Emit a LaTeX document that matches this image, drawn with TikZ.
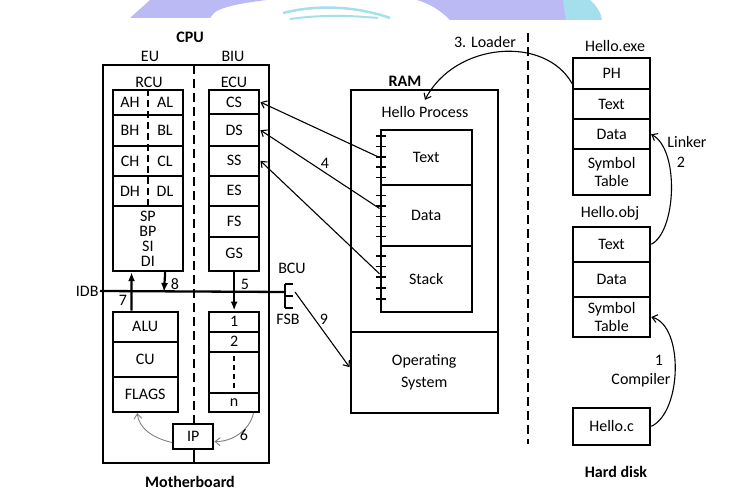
\documentclass[tikz,border=0pt]{standalone}
\usepackage{fontspec}
\setmainfont{Carlito}
\usetikzlibrary{arrows.meta}

\definecolor{wmpurple}{RGB}{188,186,245}
\definecolor{wmcyan}{RGB}{165,222,236}

\tikzset{
  cell/.style n args={2}{draw, line width=2.3pt, inner sep=0pt, minimum width=#1, minimum height=#2, align=center},
  title/.style={font=\fontsize{16}{18}\selectfont\bfseries},
  sep/.style={line width=2.3pt, dash pattern=on 9pt off 5pt},
  regsep/.style={line width=1.8pt, dash pattern=on 7pt off 4pt},
  bus/.style={line width=2.3pt},
  busarrow/.style={line width=2.2pt, -{Latex[length=9pt,width=7pt]}},
  flow/.style={line width=1.1pt, -{Straight Barb[length=5pt,width=8pt]}},
  softflow/.style={draw=gray, line width=0.9pt, -{Straight Barb[length=5pt,width=8pt]}},
  tickmark/.style={line width=1.7pt}
}

\begin{document}
\begin{tikzpicture}[x=1pt,y=-1pt,every node/.style={font=\fontsize{16}{18}\selectfont}]
\useasboundingbox (0,0) rectangle (740,502);

% watermark at the top
\fill[wmpurple] (130,18) -- (150,0) -- (267,0) .. controls (250,2) and (222,6) .. (214,13) -- (210,18) -- cycle;
\fill[wmpurple] (417,0) -- (566,0) -- (566,20) -- (450,20) .. controls (440,10) and (430,4) .. (417,0) -- cycle;
\fill[wmcyan] (563,0) -- (590,0) .. controls (597,6) and (601,13) .. (602,20) -- (566,20) -- cycle;
\draw[wmcyan, line width=2.5pt] (283,13) .. controls (310,6) and (350,4) .. (390,18);
\draw[wmcyan, line width=2pt] (290,19) .. controls (320,15) and (345,15) .. (378,18);

% CPU
\node[cell={166.3}{398}] (cpu) at (185.85,264) {};
\node[title] (cpulbl) at (190,37) {CPU};
\node (eu) at (150,56) {EU};
\node (biu) at (233,56) {BIU};
\node[title] (mb) at (190,482) {Motherboard};

% RCU
\node (rcu) at (149,82) {RCU};
\node[cell={70.3}{25}] (ahal) at (147.85,102.5) {};
\node[cell={70.3}{31}] (bhbl) at (147.85,130.5) {};
\node[cell={70.3}{30}] (chcl) at (147.85,161) {};
\node[cell={70.3}{30}] (dhdl) at (147.85,191) {};
\node[cell={70.3}{65}, font=\fontsize{16}{15}\selectfont] (ptr) at (147.85,238.5) {SP\\BP\\SI\\DI};
\draw[regsep] (ahal.north) -- (dhdl.south);
\node (ah) at (130,102.5) {AH};  \node (al) at (165,102.5) {AL};
\node (bh) at (130,130.5) {BH};  \node (bl) at (165,130.5) {BL};
\node (ch) at (130,161) {CH};    \node (cl) at (165,161) {CL};
\node (dh) at (130,191) {DH};    \node (dl) at (165,191) {DL};

% ECU
\node (ecu) at (234,82) {ECU};
\node[cell={50.3}{24.3}] (cs) at (234.15,102.15) {CS};
\node[cell={50.3}{31.7}] (ds) at (234.15,130.15) {DS};
\node[cell={50.3}{29.7}] (ss) at (234.15,160.85) {SS};
\node[cell={50.3}{30}] (es) at (234.15,190.7) {ES};
\node[cell={50.3}{31}] (fs) at (234.15,221.2) {FS};
\node[cell={50.3}{34}] (gs) at (234.15,253.7) {GS};

% internal bus
\node[anchor=east] (idb) at (102,291) {IDB};
\coordinate (bcu) at (285,292);
\draw[bus] ([xshift=-2pt]idb.east) -- (bcu);
\draw[bus] (285,284) -- (285,308) (285,284) -- (293,284) (285,296) -- (293,296) (285,308) -- (293,308);
\node (bculbl) at (292,268) {BCU};
\node (fsblbl) at (288,319) {FSB};
\coordinate (fsb) at (295,292);
\coordinate (b8) at (164,292);

% ALU side
\node[cell={65}{30.3}] (alu) at (145.2,326.85) {ALU};
\node[cell={65}{35.3}] (cu) at (145.2,359.65) {CU};
\node[cell={65}{34.7}] (flags) at (145.2,394.65) {FLAGS};

% queue
\node[cell={50.3}{20}] (q1) at (234.15,321.7) {1};
\node[cell={50.3}{20}] (q2) at (234.15,341.7) {2};
\node[cell={50.3}{41}] (qdots) at (234.15,372.2) {};
\node[cell={50.3}{19.3}] (qn) at (234.15,402.35) {n};
\draw[line width=2.2pt, dash pattern=on 5pt off 4pt] ([yshift=-5pt]qdots.north) -- ([yshift=4pt]qdots.south);

\node[cell={40}{25}] (ip) at (193.3,436.5) {IP};
\draw[sep] (194,65) -- (194,424);
\draw[line width=2.3pt] (194,449) -- (194,463);

\draw[busarrow] ([xshift=20pt]alu.north west) -- ([xshift=20pt]ptr.south west);
\draw[busarrow] ([xshift=-19pt]ptr.south east) -- (b8);
\draw[busarrow] (gs.south) -- (q1.north);
\node (n7) at (123,300) {7};
\node (n8) at (175,284) {8};
\node (n5) at (245,284) {5};

\draw[softflow] ([xshift=-7pt]qn.south east) .. controls (250,430) and (232,442) .. ([yshift=-5pt]ip.east);
\draw[softflow] ([yshift=-6pt]ip.west) .. controls (152,438) and (139,428) .. ([xshift=-8pt]flags.south);
\node (n6) at (244,435) {6};

% RAM
\node[cell={147}{322.7}] (ram) at (424.2,251.35) {};
\node[cell={147}{81}, font=\fontsize{16}{22}\selectfont] (os) at (424.2,372.2) {Operating\\System};
\node[title] (ramlbl) at (405,81) {RAM};
\node (hp) at (425,112) {Hello Process};
\node[cell={91}{55}] (ptext) at (426.2,157.5) {Text};
\node[cell={91}{61}] (pdata) at (426.2,215.5) {Data};
\node[cell={91}{65.7}] (pstack) at (426.2,278.85) {Stack};
\foreach \ty in {136,146.5,157,167,177.5,195.5,206,216.5,226.5,236.5,256,266.5,277,288,299}
  \draw[tickmark] (375.5,\ty) -- (386,\ty);

\draw[flow] (ptext.west) -- (cs.east);
\draw[flow] ([yshift=7pt]pdata.west) -- (ds.east);
\draw[flow] ([yshift=5pt]pstack.west) -- (ss.east);
\node (n4) at (325,163) {4};

\draw[flow] (fsb) -- ([yshift=5pt]os.west);
\node (n9) at (324,319) {9};

% hard disk side
\draw[sep] (528,33) -- (528,444);
\node (exelbl) at (615,46) {Hello.exe};
\node[cell={76.7}{30.7}] (eph) at (611.65,73.65) {PH};
\node[cell={76.7}{30.3}] (etext) at (611.65,104.15) {Text};
\node[cell={76.7}{30}] (edata) at (611.65,134.3) {Data};
\node[cell={76.7}{45.7}] (esym) at (611.65,172.15) {Symbol\\Table};

\node (objlbl) at (610,213) {Hello.obj};
\node[cell={77}{35}] (otext) at (611.65,244.2) {Text};
\node[cell={77}{35}] (odata) at (611.65,279.2) {Data};
\node[cell={77}{40.6}] (osym) at (611.65,317) {Symbol\\Table};

\node[cell={77}{37.3}] (hc) at (611.65,426.35) {Hello.c};
\node[title] (hd) at (616,472) {Hard disk};

\draw[flow] ([yshift=-10pt]eph.west) .. controls (545,35) and (455,42) .. ([yshift=3pt]hp.north);
\node (loader) at (485,42) {3. Loader};

\draw[flow] (otext.east) .. controls (676,232) and (680,150) .. (edata.east);
\node (linker) at (687,142) {Linker};
\node (n2) at (681,162) {2};

\draw[flow] (hc.east) .. controls (682,412) and (684,326) .. (osym.east);
\node (n1) at (659,360) {1};
\node (compiler) at (641,380) {Compiler};
\end{tikzpicture}
\end{document}
